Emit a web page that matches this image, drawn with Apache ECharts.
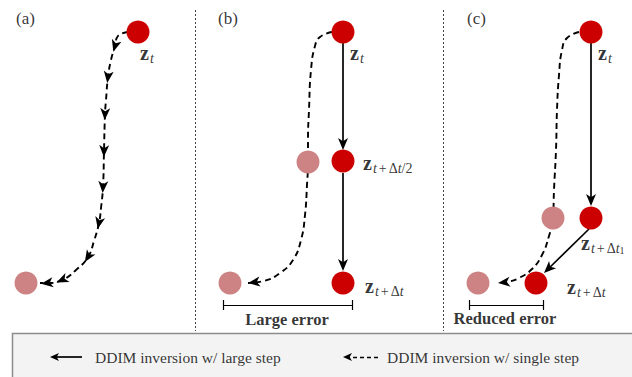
<!DOCTYPE html>
<html><head><meta charset="utf-8">
<script src="https://cdn.jsdelivr.net/npm/echarts@6/dist/echarts.min.js"></script>
<style>html,body{margin:0;padding:0;background:#fff}#c{width:632px;height:377px}</style>
</head><body><div id="c"></div>
<script>
// ---- diagram data (units = canvas pixels through hidden value axes) ----
const redPoints  = [[138,32],[343,32],[343,161],[343,283],[591,32],[591,218],[536,283]];
const pinkPoints = [[26,283],[308,162],[230,283],[553,218],[478,283]];
const curveA = [[128,32],[118,36],[115,46],[111,60],[108,77],[106,100],[105,114],[104,151],[103,187],[101,208],[99,223],[94,241],[88,257],[76,270],[62,280],[47,283],[40,283]];
const curveAArrows = [2,4,6,7,8,10,12,14,15];
const curveB = [[332,32],[320,37],[315,46],[311,70],[309,110],[308,140],[308,162],[307,185],[305,215],[301,240],[293,260],[280,273],[264,281],[248,283]];
const curveC = [[579,32],[567,38],[562,50],[559,75],[557,110],[556,150],[554,190],[553,218],[549,236],[542,255],[532,269],[519,278],[507,282],[498,283]];
const solidSteps = [[[343,43],[343,150]],[[343,173],[343,271]],[[591,43],[591,206]],[[589,229],[544,273]]];
const errorSpans = [[223,352,305],[469,543,305]];
const errorNames = ['Large error','Reduced error'];
const errorLabelPos = [[287,319],[505,318]];
const panelNames = ['(a)','(b)','(c)'];
const panelLabelPos = [[16,18],[218,18],[467,18]];
const latentLabels = ['{z|z}{i|t}','{z|z}{i|t}','{z|z}{i|t}{p|+}{n|Δ}{i|t}{n|/2}','{z|z}{i|t}{p|+}{n|Δ}{i|t}','{z|z}{i|t}','{z|z}{i|t}{p|+}{n|Δ}{i|t}{j|1}','{z|z}{i|t}{p|+}{n|Δ}{i|t}'];
const latentLabelPos = [[140,53],[350,53],[363,163],[365,286],[598,53],[581,243],[567,287]];
const dividerX = [195,443];
const legendNames = ['DDIM inversion w/ large step','DDIM inversion w/ single step'];
const legendArrows = [[[82,357],[50,357]],[[378,357],[343,357]]];
const legendTextPos = [[95,357],[387,357]];

// ---- helpers ----
const FONT = 'Liberation Serif';
const STEALTH = 'path://M5,0 L10,13 L5,9.6 L0,13 Z';
const HEAD = [10,12];
function rotOf(dx,dy){ return Math.atan2(-dx,-dy)*180/Math.PI; }
function head(center, dx, dy, back){
  const L = Math.hypot(dx,dy), ux = dx/L, uy = dy/L;
  return {value:[center[0]-ux*back, center[1]-uy*back], symbolRotate: rotOf(ux,uy)};
}
function curveHeads(c, idx){
  return idx.map(i => {
    const a = c[i-1], b = c[Math.min(i+1,c.length-1)];
    return head(c[i], b[0]-a[0], b[1]-a[1], 0);
  });
}
function endHead(c){
  const n = c.length, a = c[n-2], b = c[n-1];
  return head(b, b[0]-a[0], b[1]-a[1], HEAD[1]/2);
}
function tipHead(seg, h){
  const [a,b] = seg; return head(b, b[0]-a[0], b[1]-a[1], (h||HEAD[1])/2);
}
function shaft(seg){
  const [a,b] = seg; const dx=b[0]-a[0], dy=b[1]-a[1], L=Math.hypot(dx,dy);
  return {coords:[a,[b[0]-dx/L*5, b[1]-dy/L*5]]};
}

const dashHeads = curveHeads(curveA, curveAArrows).concat([endHead(curveB), endHead(curveC)]);
const solidHeads = solidSteps.map(s=>tipHead(s));
const legendHeads = legendArrows.map(s=>tipHead(s,9));

const dashedCurve = c => ({type:'line', data:c, smooth:0.5, showSymbol:false, silent:true, z:2,
  lineStyle:{color:'#000', width:1.9, type:[6,4]}});

const bracketSegs = [];
errorSpans.forEach(([x1,x2,y]) => {
  bracketSegs.push({coords:[[x1,y],[x2,y]]});
  bracketSegs.push({coords:[[x1,y-5],[x1,y+5]]});
  bracketSegs.push({coords:[[x2,y-5],[x2,y+5]]});
});

const textSeries = (data, label) => ({type:'scatter', symbolSize:0, silent:true, z:10, data,
  label:Object.assign({show:true, position:'inside', formatter:p=>p.name, color:'#000'}, label)});

const sub = {fontFamily:FONT, fontSize:14, lineHeight:11, verticalAlign:'bottom', color:'#000'};
const option = {
  animation:false,
  backgroundColor:'#fff',
  grid:{left:0,right:0,top:0,bottom:0},
  xAxis:{type:'value', min:0, max:632, show:false},
  yAxis:{type:'value', min:0, max:377, inverse:true, show:false},
  graphic:[{type:'rect', z:-10, shape:{x:12.5,y:333.5,width:630,height:50},
    style:{fill:'#f3f3f3', stroke:'#8c8c8c', lineWidth:1.5}}],
  series:[
    {type:'lines', coordinateSystem:'cartesian2d', silent:true, z:1,
      data: dividerX.map(x=>({coords:[[x,10],[x,331]]})),
      lineStyle:{color:'#444', width:1, type:[2,2], opacity:1}},
    dashedCurve(curveA), dashedCurve(curveB), dashedCurve(curveC),
    {type:'lines', coordinateSystem:'cartesian2d', silent:true, z:3,
      data: solidSteps.map(shaft).concat([shaft(legendArrows[0])]),
      lineStyle:{color:'#000', width:1.7, opacity:1}},
    {type:'lines', coordinateSystem:'cartesian2d', silent:true, z:3,
      data: [shaft(legendArrows[1])],
      lineStyle:{color:'#000', width:1.3, type:[4,3], opacity:1}},
    {type:'lines', coordinateSystem:'cartesian2d', silent:true, z:3,
      data: bracketSegs, lineStyle:{color:'#000', width:1.2, opacity:1}},
    {type:'scatter', symbol:STEALTH, symbolSize:HEAD, silent:true, z:4,
      data: dashHeads.concat(solidHeads), itemStyle:{color:'#000', opacity:1}},
    {type:'scatter', symbol:STEALTH, symbolSize:[8,9], silent:true, z:4,
      data: legendHeads, itemStyle:{color:'#000', opacity:1}},
    {type:'scatter', symbolSize:23, silent:true, z:5, data: pinkPoints,
      itemStyle:{color:'#cd8383', opacity:1}},
    {type:'scatter', symbolSize:23, silent:true, z:5, data: redPoints,
      itemStyle:{color:'#cc0000', opacity:1}},
    textSeries(panelNames.map((n,i)=>({name:n, value:panelLabelPos[i]})),
      {align:'left', verticalAlign:'middle', fontFamily:FONT, fontSize:17}),
    textSeries(errorNames.map((n,i)=>({name:n, value:errorLabelPos[i]})),
      {align:'center', verticalAlign:'middle', fontFamily:FONT, fontSize:16.5, fontWeight:'bold'}),
    textSeries(legendNames.map((n,i)=>({name:n, value:legendTextPos[i]})),
      {align:'left', verticalAlign:'middle', fontFamily:FONT, fontSize:15.5}),
    textSeries(latentLabels.map((n,i)=>({name:n, value:latentLabelPos[i]})),
      {align:'left', verticalAlign:'middle', fontFamily:FONT,
       rich:{
         z:{fontFamily:FONT, fontWeight:'bold', fontSize:20, lineHeight:24, verticalAlign:'middle', color:'#000', padding:[0,1,0,0]},
         i:Object.assign({}, sub, {fontStyle:'italic'}),
         n:Object.assign({}, sub),
         p:Object.assign({}, sub, {padding:[0,2,0,2]}),
         j:{fontFamily:FONT, fontSize:10, lineHeight:6, verticalAlign:'bottom', color:'#000'}
       }})
  ]
};
const chart = echarts.init(document.getElementById('c'), null, {renderer:'svg', width:632, height:377});
chart.setOption(option);
</script>
</body></html>
